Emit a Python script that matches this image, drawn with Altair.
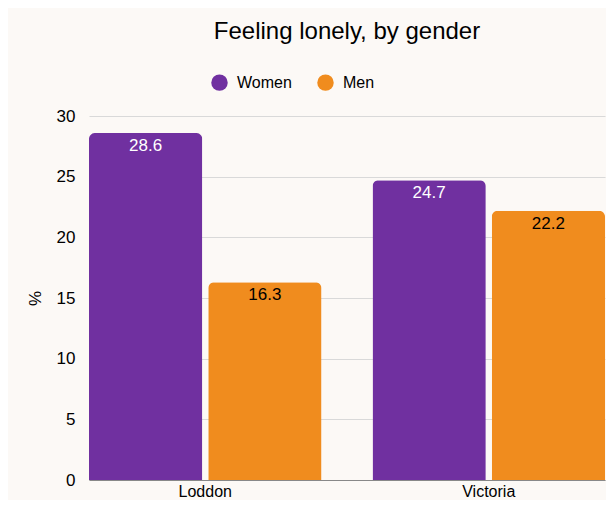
import altair as alt
import pandas as pd

regions = ["Loddon", "Loddon", "Victoria", "Victoria"]
genders = ["Women", "Men", "Women", "Men"]
values = [28.6, 16.3, 24.7, 22.2]
series = ["Women", "Men"]
series_colors = ["#7030a0", "#f08c1e"]
y_ticks = [0, 5, 10, 15, 20, 25, 30]

df = pd.DataFrame({"Region": regions, "Gender": genders, "Value": values})

FONT = "Liberation Sans"

base = alt.Chart(df).encode(
    x=alt.X(
        "Region:N",
        title=None,
        scale=alt.Scale(paddingInner=0.18, paddingOuter=0),
        axis=alt.Axis(labelAngle=0, ticks=False, domainColor="#888888",
                      labelFontSize=16, labelPadding=3, labelColor="black"),
    ),
    xOffset=alt.XOffset("Gender:N", sort=series, scale=alt.Scale(paddingInner=0.05)),
)

bars = base.mark_bar(cornerRadiusTopLeft=6, cornerRadiusTopRight=6).encode(
    y=alt.Y(
        "Value:Q",
        scale=alt.Scale(domain=[0, 30], nice=False),
        axis=alt.Axis(values=y_ticks, title="%", domain=False, ticks=False,
                      labelFontSize=17, labelPadding=14, labelColor="black",
                      titleFontSize=17, titleFontWeight="normal", titleColor="black",
                      titlePadding=12, gridColor="#d9d9d9"),
    ),
    color=alt.Color(
        "Gender:N",
        sort=series,
        scale=alt.Scale(domain=series, range=series_colors),
        legend=alt.Legend(title=None, orient="none", legendX=122, legendY=-42,
                          direction="horizontal", symbolType="circle",
                          symbolSize=270, symbolStrokeWidth=0, labelFontSize=16,
                          labelColor="black", labelOffset=9, columnPadding=25),
    ),
)

text = base.mark_text(baseline="top", dy=5, fontSize=17, font=FONT).encode(
    y=alt.Y("Value:Q"),
    text=alt.Text("Value:Q", format=".1f"),
    color=alt.condition(alt.datum.Gender == "Women", alt.value("white"), alt.value("black")),
)

chart = (
    alt.layer(bars, text)
    .properties(
        width=516,
        height=364,
        title=alt.TitleParams("Feeling lonely, by gender", fontSize=24, font=FONT,
                              fontWeight="normal", color="black", anchor="middle",
                              offset=30),
        autosize=alt.AutoSizeParams(type="none"),
        padding={"left": 81, "top": 108, "right": 1, "bottom": 20},
        background="#fcf9f6",
    )
    .configure(font=FONT)
    .configure_view(stroke=None)
    .configure_axis(labelFont=FONT, titleFont=FONT)
    .configure_legend(labelFont=FONT)
)

chart.save("out.html", embed_options={"renderer": "svg", "actions": False})
